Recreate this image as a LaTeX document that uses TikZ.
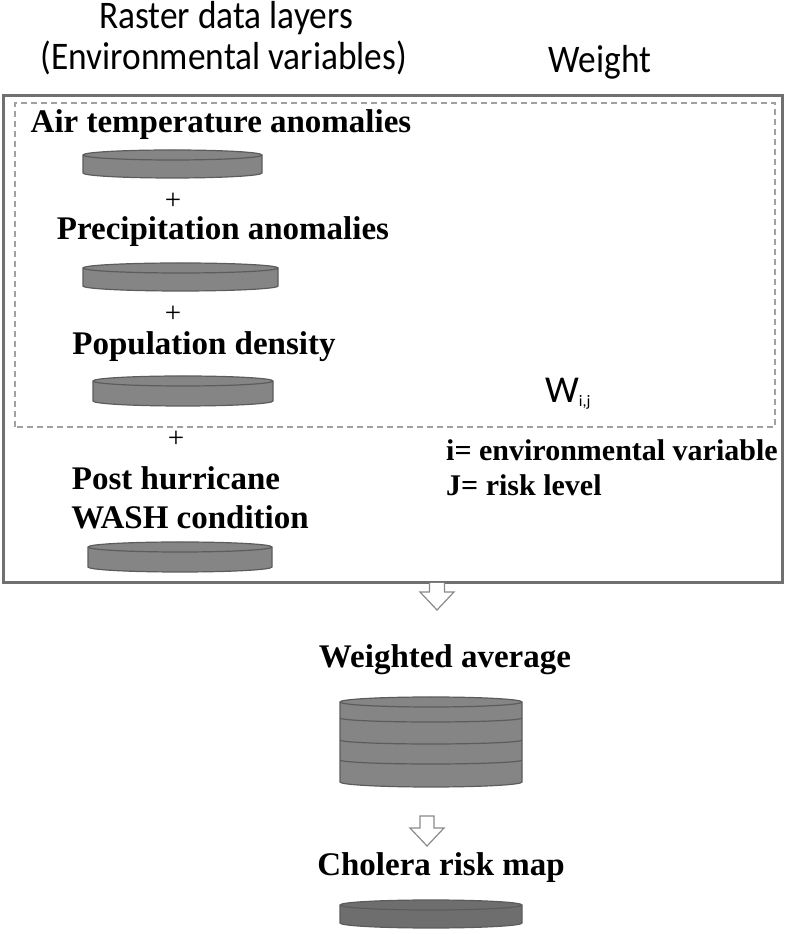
\documentclass[tikz,border=0pt]{standalone}
\usepackage{fontspec}
\setmainfont{Liberation Serif}
\newfontfamily\lblfont{Carlito}
\begin{document}
\begin{tikzpicture}[x=1pt,y=1pt,
  lbl/.style={font=\fontsize{33}{38}\selectfont\bfseries, inner sep=0pt},
  toplbl/.style={font=\lblfont\fontsize{34}{40}\selectfont, inner sep=0pt, transform shape, yscale=1.15, xscale=1.04},
  plus/.style={font=\fontsize{29}{29}\selectfont, inner sep=0pt},
  disk/.style={fill=diskfill, draw=diskline, line width=1.2pt},
  seam/.style={draw=diskline, line width=1.2pt},
  hollow/.style={draw=arrowline, fill=white, line width=1.2pt, line join=miter}]
\definecolor{diskfill}{HTML}{858585}
\definecolor{diskline}{HTML}{5C5C5C}
\definecolor{diskdark}{HTML}{6E6E6E}
\definecolor{boxline}{HTML}{707070}
\definecolor{dashline}{HTML}{A0A0A0}
\definecolor{arrowline}{HTML}{8A8A8A}
\useasboundingbox (0,0) rectangle (789,934);
% disk macro: #1 x1, #2 x2, #3 top, #4 bottom, #5 fill colour
\newcommand\rdisk[5]{%
  \path[disk, fill=#5] (#1,#3-5) -- (#1,#4+5)
    arc[start angle=180, end angle=360, x radius={(#2-#1)/2}, y radius=5]
    -- (#2,#3-5)
    arc[start angle=0, end angle=180, x radius={(#2-#1)/2}, y radius=5] -- cycle;
  \draw[seam] (#1,#3-5) arc[start angle=180, end angle=360, x radius={(#2-#1)/2}, y radius=5];
}
% titles
\node[toplbl] (t1) at (226,916) {Raster data layers};
\node[toplbl] (t2) at (224,876) {(Environmental variables)};
\node[toplbl] (t3) at (600,872) {Weight};
% boxes
\draw[boxline, line width=3pt] (3,351) rectangle (782,838);
\coordinate (boxS) at (437,351);
\draw[dashline, line width=1.6pt, dash pattern=on 6pt off 4pt] (15,507) rectangle (775,831);
% layers
\node[lbl] (air) at (221,809) {Air temperature anomalies};
\rdisk{83}{262}{784}{756}{diskfill}
\node[plus] (p1) at (173,733) {+};
\node[lbl] (pre) at (223,702) {Precipitation anomalies};
\rdisk{83}{278}{671}{643}{diskfill}
\node[plus] (p2) at (173,620) {+};
\node[lbl] (pop) at (204,587) {Population density};
\rdisk{93}{273}{558}{528}{diskfill}
\node[plus] (p3) at (176,495) {+};
\node[lbl] (post) at (176,456) {Post hurricane};
\node[lbl] (wash) at (190,417) {WASH condition};
\rdisk{88}{272}{392}{362}{diskfill}
% weight
\node[font=\lblfont\fontsize{38}{40}\selectfont, inner sep=0pt] (w) at (568,540) {W\textsubscript{\fontsize{16}{16}\selectfont i,j}};
\node[lbl, font=\fontsize{30}{34}\selectfont\bfseries, anchor=west] (iv) at (446,484) {i= environmental variable};
\node[lbl, font=\fontsize{30}{34}\selectfont\bfseries, anchor=west] (jv) at (446,449) {J= risk level};
% arrow 1
\draw[hollow] (boxS) ++(-7.5,0) -- ++(0,-9) -- ++(-9.5,0) -- (437,324) -- (454,342) -- ++(-9.5,0) -- ++(0,9);
\node[lbl] (wa) at (445,274) {Weighted average};
% stack
\path[disk] (340,232) -- (340,152)
  arc[start angle=180, end angle=360, x radius=91, y radius=5]
  -- (522,232)
  arc[start angle=0, end angle=180, x radius=91, y radius=5] -- cycle;
\draw[seam] (340,232) arc[start angle=180, end angle=360, x radius=91, y radius=5];
\draw[seam] (340,216) arc[start angle=180, end angle=360, x radius=91, y radius=4];
\draw[seam] (340,194) arc[start angle=180, end angle=360, x radius=91, y radius=4];
\draw[seam] (340,174) arc[start angle=180, end angle=360, x radius=91, y radius=4];
\coordinate (stackS) at (428,118);
% arrow 2
\draw[hollow] (420,118) -- (420,106) -- (410,106) -- (427,88) -- (444,106) -- (434,106) -- (434,118) -- cycle;
\node[lbl] (crm) at (441,66) {Cholera risk map};
\rdisk{340}{522}{34}{6}{diskdark}
\end{tikzpicture}
\end{document}
